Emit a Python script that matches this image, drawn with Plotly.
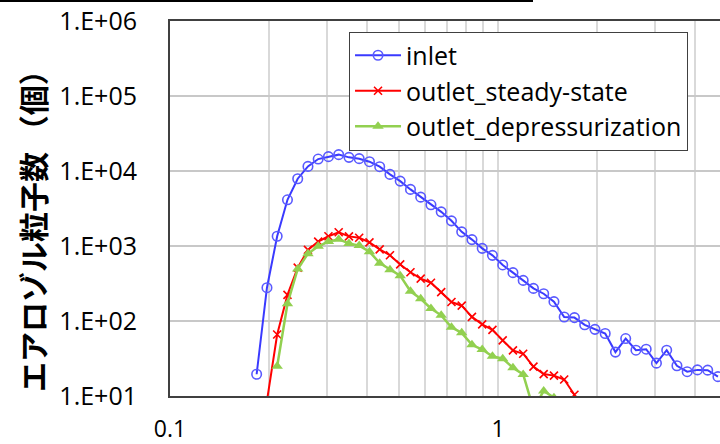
import plotly.graph_objects as go

# particle diameter (um), log-spaced channels
diameter_um = [0.1837, 0.1975, 0.2122, 0.2281, 0.2451, 0.2634, 0.2830, 0.3041,
               0.3268, 0.3512, 0.3774, 0.4056, 0.4358, 0.4684, 0.5033, 0.5409,
               0.5812, 0.6246, 0.6712, 0.7213, 0.7751, 0.8329, 0.8950, 0.9617,
               1.0335, 1.1106, 1.1934, 1.2825, 1.3781, 1.4810, 1.5914, 1.7101,
               1.8377, 1.9748, 2.1222, 2.2805, 2.4506, 2.6335, 2.8300, 3.0411,
               3.2680, 3.5118, 3.7738, 4.0553, 4.3578, 4.6830]

inlet = [19.5, 278, 1349, 4131, 7890, 11520, 14430, 15530, 16520, 15200,
         14600, 13310, 11410, 9010, 7330, 5680, 4480, 3540, 2855, 2165,
         1544, 1218, 931, 751, 559, 441, 348, 272, 231, 181,
         113, 111, 89, 77.4, 68.1, 38.5, 58.3, 40.8, 42.1, 27.4,
         40.8, 25.3, 21.1, 22.3, 22.1, 18.1]

outlet_steady = [None, 8.6, 66, 223, 514, 887, 1145, 1349, 1525, 1343,
                 1288, 1117, 901, 754, 568, 446, 367, 324, 243, 179,
                 160, 113.5, 90.3, 76.3, 55.2, 40.6, 36.6, 24.6, 19.6, 18.7,
                 16.6, 10.4]

outlet_depress = [None, None, 24.9, 170, 494, 791, 991, 1145, 1230, 1083,
                  1012, 841, 591, 483, 402, 249, 198, 147, 119, 82.4,
                  69.5, 48.1, 41.6, 33.9, 31.5, 23.8, 19.4, 6.7, 11.7, 9.5]

y_tickvals = [1e1, 1e2, 1e3, 1e4, 1e5, 1e6]
y_ticktext = ["1.E+01", "1.E+02", "1.E+03", "1.E+04", "1.E+05", "1.E+06"]
x_tickvals = [0.1, 1]
x_ticktext = ["0.1", "1"]
x_minor = [0.2, 0.3, 0.4, 0.5, 0.6, 0.7, 0.8, 0.9, 2, 3, 4]
y_title = "エアロゾル粒子数 （個）"

n_s = len(outlet_steady)
n_d = len(outlet_depress)

fig = go.Figure()
fig.add_trace(go.Scatter(
    x=diameter_um, y=inlet, name="inlet", mode="lines+markers",
    line=dict(color="#3a3aff", width=2),
    marker=dict(symbol="circle-open", size=9.5, color="#5a5aff", line=dict(width=1.6)),
))
fig.add_trace(go.Scatter(
    x=diameter_um[:n_s], y=outlet_steady, name="outlet_steady-state", mode="lines+markers",
    line=dict(color="#ff0000", width=2),
    marker=dict(symbol="x-thin", size=8, color="#ff0000", line=dict(width=1.6, color="#ff0000")),
))
fig.add_trace(go.Scatter(
    x=diameter_um[:n_d], y=outlet_depress, name="outlet_depressurization", mode="lines+markers",
    line=dict(color="#92d050", width=2.5),
    marker=dict(symbol="triangle-up", size=10, color="#92d050"),
))

fig.update_layout(
    width=720, height=444,
    margin=dict(l=170, r=0, t=21, b=48, autoexpand=False),
    paper_bgcolor="white", plot_bgcolor="white",
    font=dict(family="Open Sans, Liberation Sans, sans-serif", color="black"),
    showlegend=True,
    legend=dict(
        x=0.3255, y=0.972, xanchor="left", yanchor="top",
        bgcolor="white", bordercolor="#404040", borderwidth=1,
        font=dict(size=25, family="Open Sans, sans-serif", color="black"),
        itemwidth=46, tracegroupgap=0,
    ),
    shapes=[dict(type="line", xref="paper", yref="paper",
                 x0=-0.31, x1=0.66, y0=1.0535, y1=1.0535,
                 line=dict(color="black", width=2))],
    annotations=[dict(text=y_title, xref="paper", yref="paper",
                      x=-0.2509, y=0.4587, xanchor="center", yanchor="middle",
                      textangle=-90, showarrow=False,
                      font=dict(size=30, family="Noto Sans CJK JP", color="black", weight="bold"))],
)

fig.update_xaxes(
    type="log", range=[-1, 0.6768], automargin=False,
    tickvals=x_tickvals, ticktext=x_ticktext,
    tickfont=dict(size=23, color="black"),
    ticks="", ticklabelstandoff=11,
    showgrid=True, gridcolor="#d9d9d9", gridwidth=1.5,
    minor=dict(tickvals=x_minor, showgrid=True, gridcolor="#d9d9d9", gridwidth=1.5, ticks=""),
    showline=True, linecolor="#404040", linewidth=2, mirror=True,
    zeroline=False,
)
fig.update_yaxes(
    type="log", range=[1, 6], automargin=False,
    tickvals=y_tickvals, ticktext=y_ticktext,
    tickfont=dict(size=25, color="black"),
    ticks="", ticklabelstandoff=26,
    showgrid=True, gridcolor="#c8c8c8", gridwidth=1.5,
    showline=True, linecolor="#404040", linewidth=2, mirror=False,
    zeroline=False,
)

fig.write_html("out.html")
